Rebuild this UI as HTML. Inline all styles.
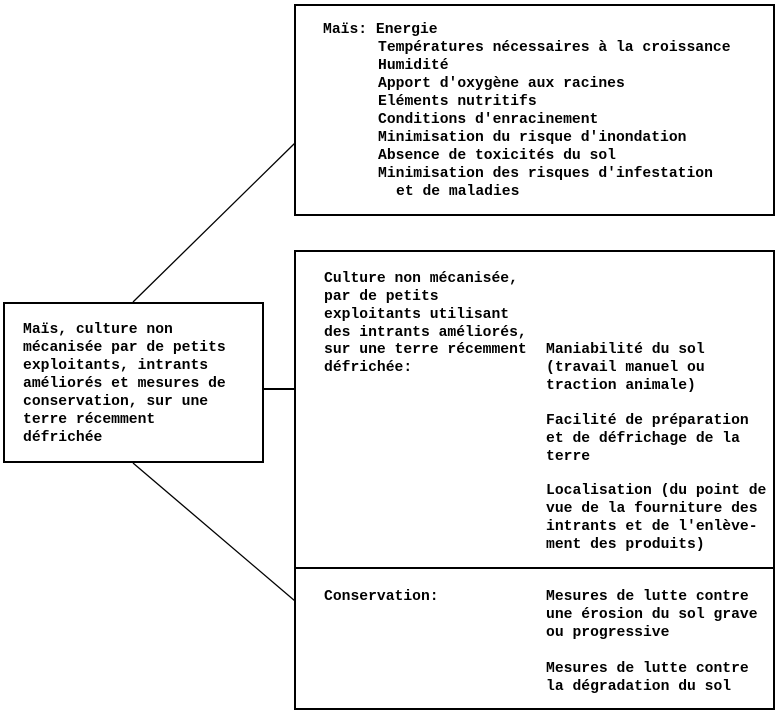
<!DOCTYPE html>
<html><head><meta charset="utf-8"><style>
html,body{margin:0;padding:0;background:#fff;}
svg text{font-family:"Liberation Mono",monospace;font-size:14.7px;fill:#000;font-weight:bold;}
</style></head><body>
<svg width="779" height="713" viewBox="0 0 779 713" xmlns="http://www.w3.org/2000/svg">
<g fill="none" stroke="#000" stroke-width="2">
<rect x="295" y="5" width="479" height="210"/>
<rect x="295" y="251" width="479" height="458"/>
<line x1="295" y1="568" x2="774" y2="568"/>
<rect x="4" y="303" width="259" height="159"/>
<line x1="263" y1="389" x2="295" y2="389"/>
</g>
<g stroke="#000" stroke-width="1.3">
<line x1="133" y1="302" x2="295" y2="143"/>
<line x1="133" y1="463" x2="295" y2="601"/>
</g>
<g>
<text x="323" y="33">Maïs: Energie</text>
<text x="378" y="51">Températures nécessaires à la croissance</text>
<text x="378" y="69">Humidité</text>
<text x="378" y="87">Apport d'oxygène aux racines</text>
<text x="378" y="105">Eléments nutritifs</text>
<text x="378" y="123">Conditions d'enracinement</text>
<text x="378" y="141">Minimisation du risque d'inondation</text>
<text x="378" y="159">Absence de toxicités du sol</text>
<text x="378" y="177">Minimisation des risques d'infestation</text>
<text x="396" y="195">et de maladies</text>

<text x="23" y="333">Maïs, culture non</text>
<text x="23" y="351">mécanisée par de petits</text>
<text x="23" y="369">exploitants, intrants</text>
<text x="23" y="387">améliorés et mesures de</text>
<text x="23" y="405">conservation, sur une</text>
<text x="23" y="423">terre récemment</text>
<text x="23" y="441">défrichée</text>

<text x="324" y="282">Culture non mécanisée,</text>
<text x="324" y="300">par de petits</text>
<text x="324" y="318">exploitants utilisant</text>
<text x="324" y="336">des intrants améliorés,</text>
<text x="324" y="353">sur une terre récemment</text>
<text x="324" y="371">défrichée:</text>
<text x="546" y="353">Maniabilité du sol</text>
<text x="546" y="371">(travail manuel ou</text>
<text x="546" y="389">traction animale)</text>
<text x="546" y="424">Facilité de préparation</text>
<text x="546" y="442">et de défrichage de la</text>
<text x="546" y="460">terre</text>
<text x="546" y="494">Localisation (du point de</text>
<text x="546" y="512">vue de la fourniture des</text>
<text x="546" y="530">intrants et de l'enlève-</text>
<text x="546" y="548">ment des produits)</text>

<text x="324" y="600">Conservation:</text>
<text x="546" y="600">Mesures de lutte contre</text>
<text x="546" y="618">une érosion du sol grave</text>
<text x="546" y="636">ou progressive</text>
<text x="546" y="672">Mesures de lutte contre</text>
<text x="546" y="690">la dégradation du sol</text>
</g>
</svg>
</body></html>
